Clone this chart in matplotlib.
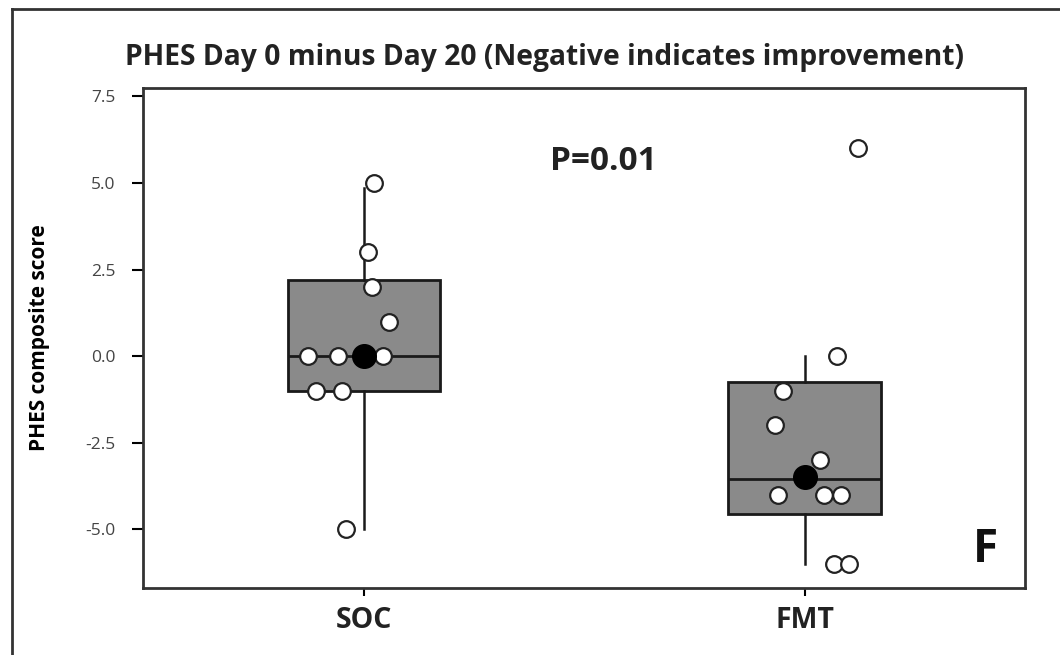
import numpy as np
import matplotlib.pyplot as plt
from matplotlib.lines import Line2D

groups = ["SOC", "FMT"]
# box summary
q1 = [-1.0, -4.55]
med = [0.0, -3.55]
q3 = [2.2, -0.75]
whislo = [-5.0, -6.0]
whishi = [4.85, 0.0]
means = [0.0, -3.5]

# individual points (value, jitter offset from group centre)
soc_vals = [5, 3, 2, 1, 0, 0, 0, -1, -1, -5]
soc_jit = [0.023, 0.011, 0.018, 0.057, -0.125, -0.059, 0.043, -0.107, -0.048, -0.041]
fmt_vals = [6, 0, -1, -2, -3, -4, -4, -4, -6, -6]
fmt_jit = [0.122, 0.073, -0.048, -0.066, 0.036, -0.061, 0.043, 0.082, 0.066, 0.1]

yticks = [-5.0, -2.5, 0.0, 2.5, 5.0, 7.5]

fig = plt.figure(figsize=(10.6, 6.55), dpi=100)
ax = fig.add_axes([0.135, 0.102, 0.832, 0.764])

stats = []
for i in range(len(groups)):
    stats.append(dict(q1=q1[i], med=med[i], q3=q3[i], whislo=whislo[i],
                      whishi=whishi[i], fliers=[], label=groups[i]))
ax.bxp(stats, positions=[1, 2], widths=0.345, patch_artist=True,
       showcaps=False, showfliers=False,
       boxprops=dict(facecolor="#8a8a8a", edgecolor="#1a1a1a", linewidth=2),
       medianprops=dict(color="#1a1a1a", linewidth=2),
       whiskerprops=dict(color="#1a1a1a", linewidth=1.8), zorder=2)

for pos, vals, jit in [(1, soc_vals, soc_jit), (2, fmt_vals, fmt_jit)]:
    xs = [pos + j for j in jit]
    ax.plot(xs, vals, "o", ms=12, mfc="white", mec="#222222", mew=1.6, ls="none", zorder=4)

ax.plot([1, 2], means, "o", ms=17, color="black", ls="none", zorder=5)

ax.set_xlim(0.5, 2.5)
ax.set_ylim(-6.7, 7.75)
ax.set_xticks([1, 2])
ax.set_xticklabels(groups, fontsize=20.5, fontweight="bold", family="Open Sans", color="#222222")
ax.set_yticks(yticks)
ax.set_yticklabels(["%.1f" % v for v in yticks], fontsize=12.5, family="Open Sans", color="#444444")
ax.tick_params(axis="y", length=8, width=1.5, pad=12)
ax.tick_params(axis="x", length=6, width=1.5, pad=7)
for s in ax.spines.values():
    s.set_linewidth(2)
    s.set_color("#333333")

ax.set_ylabel("PHES composite score", fontsize=15, fontweight="bold", family="Open Sans")
ax.yaxis.set_label_coords(-0.105, 0.5)

fig.text(0.514, 0.912, "PHES Day 0 minus Day 20 (Negative indicates improvement)",
         ha="center", va="center", fontsize=20.3, fontweight="bold", family="Open Sans", color="#222222")
ax.text(0.522, 0.852, "P=0.01", transform=ax.transAxes, ha="center", va="center",
        fontsize=24, fontweight="bold", family="Open Sans", color="#222222")
ax.text(0.955, 0.078, "F", transform=ax.transAxes, ha="center", va="center",
        fontsize=33, fontweight="bold", family="Open Sans", color="#111111")

# outer frame of the panel (top and left edges only)
fig.add_artist(Line2D([12 / 1060, 1.0], [1 - 9 / 655, 1 - 9 / 655], color="#333333", lw=2))
fig.add_artist(Line2D([12 / 1060, 12 / 1060], [0.0, 1 - 9 / 655], color="#333333", lw=2))

fig.savefig("out.png", dpi=100)
